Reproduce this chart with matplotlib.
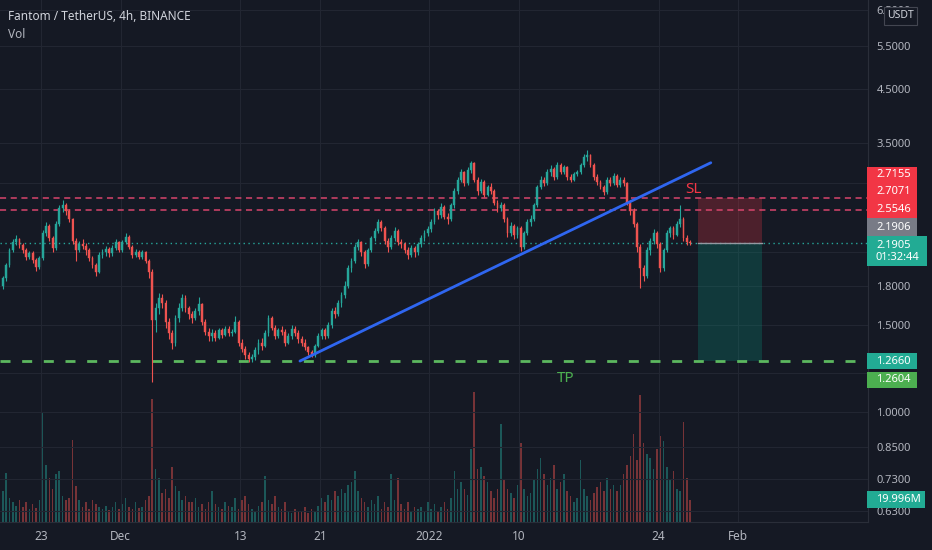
import numpy as np
import matplotlib.pyplot as plt
import matplotlib.dates as mdates
from matplotlib.patches import Rectangle
from matplotlib.ticker import FixedLocator, NullLocator, FuncFormatter

plt.rcParams['font.family'] = ['Noto Sans', 'DejaVu Sans']

first_open = 1.80
closes = [
    1.86, 1.98, 2.12,  2.20, 2.24, 2.17,  2.12, 2.06, 2.09,  2.03, 1.96, 2.05,   # Nov 19-22
    2.30, 2.38, 2.25,  2.14, 2.40, 2.58,  2.62, 2.55, 2.45,  2.22, 2.12, 2.18,   # Nov 23-26
    2.16, 2.12, 2.05,  1.98, 1.92, 2.08,  2.10, 2.13, 2.09,  2.14, 2.20, 2.12,   # Nov 27-30
    2.20, 2.26, 2.15,  2.08, 2.10, 2.06,  2.10, 2.02, 1.92,  1.53, 1.62, 1.70,   # Dec 1-4
    1.66, 1.52, 1.44,  1.38, 1.55, 1.62,  1.70, 1.62, 1.58,  1.55, 1.60, 1.65,   # Dec 5-8
    1.52, 1.45, 1.42,  1.44, 1.41, 1.46,  1.43, 1.47, 1.44,  1.45, 1.52, 1.38,   # Dec 9-12
    1.34, 1.30, 1.28,  1.29, 1.33, 1.38,  1.36, 1.44, 1.55,  1.48, 1.42, 1.46,   # Dec 13-16
    1.45, 1.38, 1.42,  1.47, 1.44, 1.40,  1.38, 1.35, 1.32,  1.30, 1.36, 1.42,   # Dec 17-20
    1.46, 1.42, 1.50,  1.60, 1.58, 1.66,  1.72, 1.80, 1.95,  2.02, 2.15, 2.20,   # Dec 21-24
    2.10, 1.99, 2.12,  2.25, 2.32, 2.42,  2.35, 2.22, 2.15,  2.25, 2.32, 2.20,   # Dec 25-28
    2.18, 2.12, 2.08,  2.14, 2.10, 2.18,  2.25, 2.30, 2.34,                      # Dec 29-31
    2.42, 2.55, 2.50,  2.60, 2.48, 2.45,  2.62, 2.80, 2.95,  3.05, 2.90, 3.08,   # Jan 1-4
    3.18, 2.95, 2.80,  2.92, 2.75, 2.85,  2.80, 2.65, 2.58,  2.62, 2.45, 2.30,   # Jan 5-8
    2.38, 2.28, 2.35,  2.15, 2.30, 2.42,  2.45, 2.62, 2.85,  2.95, 2.90, 3.05,   # Jan 9-12
    3.10, 2.98, 3.15,  3.05, 3.12, 2.98,  2.95, 3.02, 3.05,  3.15, 3.28, 3.30,   # Jan 13-16
    3.15, 2.98, 2.92,  2.85, 2.78, 2.95,  2.90, 3.00, 2.88,  2.95, 2.90, 2.65,   # Jan 17-20
    2.55, 2.40, 2.15,  1.95, 1.88, 2.12,  2.22, 2.30, 2.18,  1.95, 2.12, 2.30,   # Jan 21-24
    2.35, 2.28, 2.40,  2.45, 2.25, 2.20,  2.1905,                                # Jan 25-27
]
highs = [
    1.88, 2.00, 2.14,  2.24, 2.28, 2.25,  2.19, 2.14, 2.11,  2.11, 2.05, 2.07,
    2.33, 2.42, 2.40,  2.27, 2.43, 2.62,  2.68, 2.65, 2.57,  2.47, 2.25, 2.22,
    2.24, 2.19, 2.14,  2.07, 2.00, 2.10,  2.13, 2.16, 2.15,  2.17, 2.24, 2.22,
    2.23, 2.30, 2.28,  2.17, 2.13, 2.12,  2.12, 2.11, 2.04,  1.94, 1.66, 1.74,
    1.73, 1.68, 1.55,  1.46, 1.57, 1.66,  1.73, 1.72, 1.64,  1.60, 1.62, 1.71,
    1.66, 1.54, 1.48,  1.47, 1.46, 1.48,  1.48, 1.49, 1.49,  1.47, 1.56, 1.53,
    1.40, 1.36, 1.32,  1.31, 1.35, 1.40,  1.41, 1.46, 1.57,  1.56, 1.50, 1.48,
    1.49, 1.47, 1.44,  1.50, 1.49, 1.46,  1.42, 1.40, 1.36,  1.33, 1.37, 1.44,
    1.48, 1.48, 1.52,  1.62, 1.63, 1.68,  1.75, 1.84, 1.98,  2.05, 2.18, 2.24,
    2.22, 2.12, 2.14,  2.27, 2.35, 2.45,  2.44, 2.38, 2.25,  2.28, 2.36, 2.34,
    2.24, 2.20, 2.15,  2.17, 2.16, 2.20,  2.28, 2.33, 2.37,
    2.45, 2.58, 2.57,  2.64, 2.62, 2.52,  2.65, 2.84, 2.99,  3.10, 3.07, 3.12,
    3.22, 3.20, 2.98,  2.96, 2.94, 2.88,  2.90, 2.82, 2.68,  2.66, 2.64, 2.48,
    2.42, 2.40, 2.38,  2.37, 2.32, 2.45,  2.50, 2.65, 2.88,  3.00, 2.98, 3.10,
    3.16, 3.12, 3.20,  3.18, 3.15, 3.14,  3.02, 3.05, 3.09,  3.18, 3.32, 3.38,
    3.33, 3.18, 3.02,  2.95, 2.88, 2.98,  2.98, 3.04, 3.02,  2.99, 2.98, 2.92,
    2.68, 2.58, 2.42,  2.18, 1.98, 2.15,  2.25, 2.34, 2.32,  2.20, 2.14, 2.33,
    2.38, 2.37, 2.43,  2.62, 2.48, 2.28,  2.23,
]
lows = [
    1.77, 1.84, 1.96,  2.10, 2.17, 2.14,  2.09, 2.03, 2.04,  2.00, 1.93, 1.94,
    2.03, 2.27, 2.22,  2.10, 2.12, 2.38,  2.53, 2.50, 2.42,  2.18, 2.02, 2.10,
    2.13, 2.08, 2.02,  1.95, 1.88, 1.91,  2.05, 2.07, 2.06,  2.07, 2.12, 2.10,
    2.10, 2.18, 2.13,  2.05, 2.06, 2.04,  2.04, 2.00, 1.86,  1.15, 1.45, 1.58,
    1.62, 1.48, 1.40,  1.34, 1.36, 1.52,  1.60, 1.59, 1.54,  1.51, 1.53, 1.57,
    1.50, 1.43, 1.39,  1.39, 1.39, 1.40,  1.41, 1.42, 1.42,  1.42, 1.44, 1.36,
    1.32, 1.28, 1.26,  1.26, 1.27, 1.31,  1.33, 1.35, 1.42,  1.46, 1.40, 1.41,
    1.43, 1.36, 1.37,  1.40, 1.42, 1.38,  1.36, 1.33, 1.30,  1.29, 1.29, 1.35,
    1.40, 1.40, 1.41,  1.48, 1.55, 1.56,  1.63, 1.70, 1.78,  1.92, 2.00, 2.12,
    2.07, 1.95, 1.97,  2.10, 2.22, 2.30,  2.32, 2.18, 2.10,  2.13, 2.22, 2.17,
    2.14, 2.09, 2.04,  2.06, 2.06, 2.08,  2.15, 2.22, 2.27,
    2.31, 2.40, 2.46,  2.47, 2.45, 2.40,  2.43, 2.58, 2.76,  2.92, 2.86, 2.88,
    3.04, 2.92, 2.74,  2.77, 2.72, 2.73,  2.76, 2.62, 2.54,  2.55, 2.42, 2.26,
    2.27, 2.24, 2.25,  2.11, 2.13, 2.28,  2.38, 2.43, 2.60,  2.82, 2.86, 2.88,
    3.00, 2.94, 2.96,  3.02, 3.02, 2.95,  2.92, 2.93, 3.00,  3.02, 3.12, 3.22,
    3.12, 2.94, 2.88,  2.82, 2.74, 2.76,  2.86, 2.88, 2.85,  2.85, 2.86, 2.62,
    2.50, 2.36, 2.10,  1.78, 1.84, 1.86,  2.08, 2.18, 2.14,  1.92, 1.93, 2.10,
    2.26, 2.24, 2.27,  2.36, 2.22, 2.17,  2.17,
]
# volume in millions
volumes = [
    28, 45, 22,  18, 15, 20,  14, 18, 12,  16, 13, 20,
    100, 52, 40,  30, 44, 46,  24, 20, 22,  75, 33, 20,
    14, 18, 12,  20, 16, 14,  12, 15, 11,  14, 18, 12,
    16, 22, 14,  12, 18, 13,  14, 20, 24,  112, 48, 40,
    26, 30, 22,  50, 33, 28,  20, 24, 18,  18, 22, 14,
    16, 12, 18,  28, 16, 14,  12, 18, 15,  14, 22, 12,
    20, 24, 16,  12, 10, 15,  18, 42, 20,  16, 24, 14,
    12, 18, 10,  8, 12, 9,  10, 14, 8,  12, 10, 15,
    22, 18, 25,  20, 28, 24,  30, 26, 34,  36, 46, 28,
    22, 18, 14,  20, 16, 24,  12, 18, 14,  44, 20, 40,
    16, 12, 18,  10, 14, 12,  14, 10, 18,
    12, 16, 10,  14, 18, 12,  22, 46, 30,  36, 30, 25,
    66, 118, 48,  50, 42, 36,  28, 22, 30,  89, 38, 30,
    26, 22, 34,  72, 30, 24,  26, 38, 48,  58, 44, 34,
    40, 52, 30,  36, 44, 28,  24, 18, 22,  56, 30, 24,
    20, 26, 32,  36, 28, 40,  30, 34, 28,  34, 44, 52,
    60, 80, 56,  116, 72, 62,  58, 48, 66,  78, 74, 50,
    38, 46, 30,  28, 91, 40,  20,
]

price_ticks = [0.63, 0.73, 0.85, 1.0, 1.2, 1.5, 1.8, 2.1, 2.9, 3.5, 4.5, 5.5, 6.5]
hidden_ticks = [1.2, 2.1, 2.9]   # labels sit under the price badges
date_ticks = ['2021-11-23', '2021-12-01', '2021-12-13', '2021-12-21',
              '2022-01-01', '2022-01-10', '2022-01-24', '2022-02-01']
date_labels = ['23', 'Dec', '13', '21', '2022', '10', '24', 'Feb']

stop_top = 2.7155
stop_levels = [2.7071, 2.5546]
prev_close = 2.1906
entry_price = 2.1905
target_price = 1.2660
target_low = 1.2604
last_volume = '19.996M'
countdown = '01:32:44'
trend_start = ('2021-12-19T00:00', 1.266)
trend_end = ('2022-01-29T06:00', 3.19)
box_start, box_end = '2022-01-27T23:00', '2022-02-03T10:00'

BG = '#151924'
UP, DOWN = '#26a69a', '#ef5350'
TXT = '#b2b5be'
W, H = 932, 550


def dnum(s):
    return mdates.date2num(np.datetime64(s))


fig = plt.figure(figsize=(W / 100, H / 100), dpi=100, facecolor=BG)
rect = [0, 28 / H, 868 / W, 522 / H]
axv = fig.add_axes(rect)
ax = fig.add_axes(rect, facecolor='none', sharex=axv)

t0 = dnum('2021-11-19T00:00')
x = t0 + (np.arange(len(closes)) + 0.5) / 3
c = np.array(closes)
o = np.array([first_open] + closes[:-1])
up = c >= o
cols = [UP if u else DOWN for u in up]

# volume pane
axv.bar(x, volumes, width=0.16, color=cols, alpha=0.45, lw=0)
axv.set_ylim(0, 475)
axv.set_axis_off()

# candles
ax.vlines(x, lows, highs, colors=cols, lw=0.8, zorder=3)
ax.bar(x, np.abs(c - o), bottom=np.minimum(c, o), width=0.18, color=cols,
       edgecolor=cols, lw=0.3, zorder=3)

ax.set_yscale('log')
ax.set_ylim(0.598, 6.81)
left = dnum('2021-11-23') - 41 / 9.96
ax.set_xlim(left, left + 868 / 9.96)

# levels
for lv in stop_levels:
    ax.axhline(lv, color='#d8456c', lw=1.1, dashes=(4, 3), zorder=2)
ax.axhline(entry_price, color=UP, lw=1, linestyle=(0, (1, 2.5)), zorder=2)
ax.axhline(target_price, color='#5cb85f', lw=2, dashes=(3.6, 4.2), zorder=2)

ax.plot([dnum(trend_start[0]), dnum(trend_end[0])], [trend_start[1], trend_end[1]],
        color='#2f66f0', lw=2, zorder=4, solid_capstyle='round')

bx = [dnum(box_start), dnum(box_end)]
ax.fill_between(bx, entry_price, stop_levels[0], color='#f23645', alpha=0.25, lw=0, zorder=1)
ax.fill_between(bx, target_price, entry_price, color='#089981', alpha=0.25, lw=0, zorder=1)
ax.plot(bx, [entry_price, entry_price], color='#9598a1', lw=1, zorder=2)

ax.text(dnum('2022-01-27T13:00'), 2.81, 'SL', color='#f23645', fontsize=11,
        ha='center', va='center', zorder=5)
ax.text(dnum('2022-01-14T17:00'), 1.165, 'TP', color='#4caf50', fontsize=11,
        ha='center', va='center', zorder=5)

# axes styling
ax.yaxis.tick_right()
ax.yaxis.set_major_locator(FixedLocator(price_ticks))
ax.yaxis.set_minor_locator(NullLocator())
ax.yaxis.set_major_formatter(FuncFormatter(
    lambda v, p: '' if any(abs(v - h) < 1e-9 for h in hidden_ticks) else f'{v:.4f}'))
ax.set_xticks([dnum(d) for d in date_ticks])
ax.set_xticklabels(date_labels)
ax.get_xticklabels()[4].set_fontweight('bold')
ax.tick_params(axis='y', length=0, pad=6, labelsize=8, colors=TXT)
ax.tick_params(axis='x', length=0, pad=6, labelsize=8.5, colors=TXT)
ax.grid(True, color='#222632', lw=0.8, zorder=0)
ax.set_axisbelow(True)
for s in ['top', 'left']:
    ax.spines[s].set_visible(False)
for s in ['right', 'bottom']:
    ax.spines[s].set_color('#2a2e39')

fig.text(8 / W, 1 - 16 / H, 'Fantom / TetherUS, 4h, BINANCE', color='#d1d4dc',
         fontsize=8.5, va='center', ha='left')
fig.text(8 / W, 1 - 34 / H, 'Vol', color=TXT, fontsize=8.5, va='center', ha='left')


def badge(x0, x1, y0, y1, face, texts, edge=None, tcolor='white'):
    fig.add_artist(Rectangle((x0 / W, 1 - y1 / H), (x1 - x0) / W, (y1 - y0) / H,
                             transform=fig.transFigure, facecolor=face,
                             edgecolor=edge or face, lw=0.8 if edge else 0, zorder=10))
    for ty, s in texts:
        fig.text(876 / W, 1 - ty / H, s, color=tcolor, fontsize=8, va='center',
                 ha='left', zorder=11)


badge(867, 917, 167, 218, '#f23645',
      [(175, f'{stop_top:.4f}'), (192, f'{stop_levels[0]:.4f}'), (209, f'{stop_levels[1]:.4f}')])
badge(867, 917, 218, 236, '#787b86', [(227, f'{prev_close:.4f}')])
badge(867, 927, 236, 266, '#22ab94', [(245, f'{entry_price:.4f}'), (258, countdown)])
badge(867, 917, 353, 369, '#22ab94', [(361, f'{target_price:.4f}')])
badge(867, 917, 372, 388, '#4caf50', [(380, f'{target_low:.4f}')])
badge(867, 925, 491, 508, '#22ab94', [(500, last_volume)])
fig.add_artist(Rectangle((884 / W, 1 - 25 / H), 33 / W, 18 / H, transform=fig.transFigure,
                         facecolor=BG, edgecolor='#434651', lw=0.8, zorder=10))
fig.text(900 / W, 1 - 16 / H, 'USDT', color='#d1d4dc', fontsize=7.5, ha='center',
         va='center', zorder=11)

fig.savefig('out.png', dpi=100, facecolor=BG)
